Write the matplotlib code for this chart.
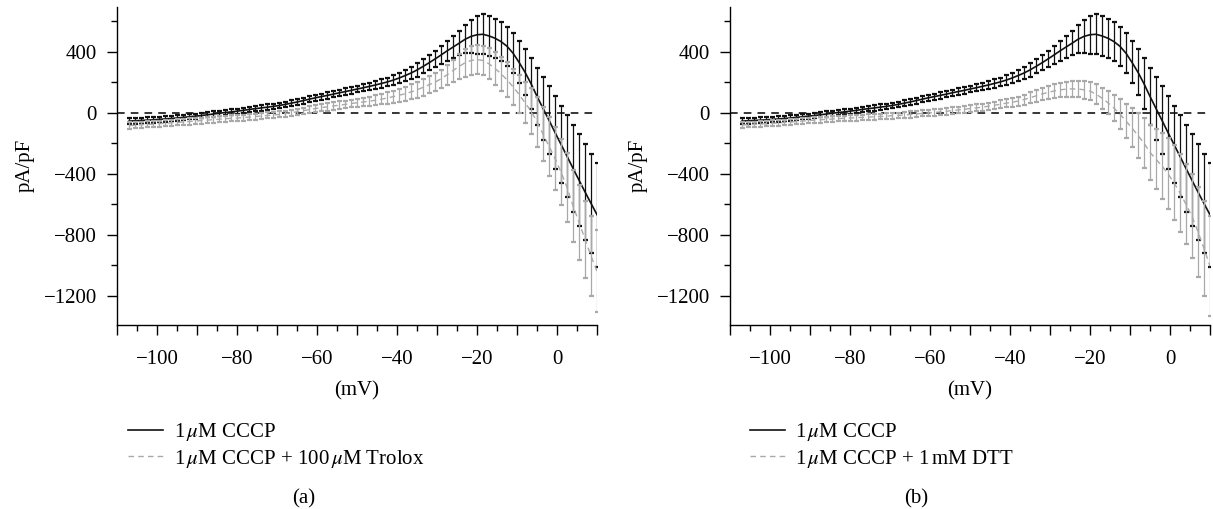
import matplotlib
matplotlib.use("Agg")
import matplotlib.pyplot as plt
import numpy as np
from matplotlib.ticker import MultipleLocator, FuncFormatter
from matplotlib.lines import Line2D

plt.rcParams['font.family'] = ['Liberation Serif', 'DejaVu Serif']
plt.rcParams['mathtext.fontset'] = 'stix'

# membrane voltage (mV)
mv = [-107, -105.5, -104, -102.5, -101, -99.5, -98, -96.5, -95, -93.5,
      -92, -90.5, -89, -87.5, -86, -84.5, -83, -81.5, -80, -78.5,
      -77, -75.5, -74, -72.5, -71, -69.5, -68, -66.5, -65, -63.5,
      -62, -60.5, -59, -57.5, -56, -54.5, -53, -51.5, -50, -48.5,
      -47, -45.5, -44, -42.5, -41, -39.5, -38, -36.5, -35, -33.5,
      -32, -30.5, -29, -27.5, -26, -24.5, -23, -21.5, -20, -18.5,
      -17, -15.5, -14, -12.5, -11, -9.5, -8, -6.5, -5, -3.5,
      -2, -0.5, 1, 2.5, 4, 5.5, 7, 8.5, 10]

# 1 uM CCCP (control, both panels)
cccp = [-55, -53, -51, -49, -47, -44, -41, -38, -35, -31,
        -27, -23, -19, -14, -9, -4, 1, 5, 10, 15,
        21, 26, 31, 36, 41, 47, 54, 62, 70, 79,
        88, 97, 105, 113, 121, 130, 138, 146, 155, 163,
        172, 181, 191, 201, 213, 227, 243, 260, 280, 303,
        327, 352, 378, 405, 430, 455, 481, 500, 511, 514,
        503, 488, 466, 435, 390, 330, 265, 190, 107, 28,
        -50, -130, -208, -286, -365, -443, -520, -595, -669]
cccp_sem = [18, 18, 18, 18, 18, 18, 18, 17, 17, 17,
            17, 17, 17, 17, 17, 17, 17, 17, 17, 17,
            17, 18, 18, 18, 18, 18, 19, 19, 19, 20,
            20, 20, 20, 21, 21, 21, 22, 22, 22, 23,
            24, 25, 27, 29, 31, 34, 37, 40, 43, 46,
            49, 53, 58, 64, 70, 80, 92, 108, 124, 131,
            132, 129, 127, 127, 130, 138, 150, 166, 185, 205,
            222, 238, 253, 268, 284, 300, 314, 327, 340]

# 1 uM CCCP + 100 uM Trolox
trolox = [-85, -82, -79, -77, -75, -72, -69, -67, -64, -61,
          -58, -55, -52, -49, -46, -43, -40, -37, -35, -32,
          -29, -26, -22, -18, -15, -11, -6, 0, 6, 13,
          20, 27, 33, 38, 44, 49, 54, 60, 65, 70,
          75, 81, 88, 96, 105, 114, 124, 136, 150, 166,
          183, 200, 222, 248, 276, 303, 327, 342, 348, 342,
          320, 290, 255, 215, 170, 120, 65, 10, -60, -140,
          -220, -300, -390, -490, -610, -720, -830, -940, -1040]
trolox_sem = [21, 21, 21, 20, 20, 20, 20, 20, 20, 20,
              20, 20, 20, 20, 20, 20, 20, 20, 20, 20,
              20, 20, 20, 20, 20, 20, 20, 20, 20, 20,
              22, 23, 23, 24, 24, 25, 25, 26, 27, 28,
              30, 32, 34, 37, 40, 43, 46, 49, 52, 54,
              55, 57, 59, 64, 72, 82, 90, 95, 96, 98,
              102, 106, 110, 114, 118, 125, 135, 150, 165, 180,
              193, 205, 215, 225, 235, 245, 252, 260, 268]

# 1 uM CCCP + 1 mM DTT
dtt = [-80, -78, -76, -74, -72, -69, -67, -64, -61, -58,
       -55, -52, -49, -47, -44, -42, -39, -37, -35, -33,
       -31, -29, -27, -25, -23, -20, -18, -15, -12, -8,
       -5, -2, 1, 5, 9, 13, 18, 22, 27, 31,
       36, 42, 48, 55, 62, 68, 76, 86, 98, 110,
       122, 133, 142, 150, 154, 156, 155, 150, 141, 122,
       95, 65, 30, -10, -55, -100, -150, -200, -260, -305,
       -350, -400, -460, -525, -600, -680, -780, -890, -1005]
dtt_sem = [18, 18, 18, 18, 18, 18, 18, 18, 18, 18,
           18, 18, 18, 18, 18, 18, 18, 18, 19, 19,
           19, 19, 19, 19, 19, 19, 19, 20, 20, 20,
           20, 20, 20, 21, 21, 21, 22, 22, 22, 23,
           23, 24, 24, 25, 26, 28, 30, 33, 36, 39,
           41, 43, 45, 47, 50, 52, 55, 58, 60, 64,
           70, 76, 85, 97, 112, 128, 145, 162, 180, 198,
           215, 232, 245, 255, 262, 275, 295, 312, 330]

labels_a = [r'1$\,\mu$M CCCP', r'1$\,\mu$M CCCP + 100$\,\mu$M Trolox']
labels_b = [r'1$\,\mu$M CCCP', r'1$\,\mu$M CCCP + 1$\,$mM DTT']

black = '#111111'
grey = '#a9a9a9'
fs = 15

fig = plt.figure(figsize=(12.13, 5.09), dpi=100)
ax_a = fig.add_axes([0.0965, 0.3615, 0.3957, 0.6254])
ax_b = fig.add_axes([0.6018, 0.3615, 0.3957, 0.6254])


def minus(v):
    return '{:d}'.format(int(round(v))).replace('-', '\u2212')


def panel(ax, mean2, sem2):
    ax.axhline(0, color='black', lw=1.1, ls=(0, (5, 4)), zorder=1)
    ax.errorbar(mv, cccp, yerr=cccp_sem, color=black, lw=1.2, elinewidth=0.9,
                capsize=1.8, capthick=1.6, zorder=2)
    ax.errorbar(mv, mean2, yerr=sem2, color=grey, lw=1.0, ls=(0, (4, 3)),
                elinewidth=0.9, capsize=1.8, capthick=1.6, zorder=3)
    ax.set_xlim(-110, 10)
    ax.set_ylim(-1392, 695)
    ax.xaxis.set_major_locator(MultipleLocator(10))
    ax.xaxis.set_minor_locator(MultipleLocator(5))
    ax.xaxis.set_major_formatter(FuncFormatter(
        lambda v, p: '' if round(v) % 20 else minus(v)))
    ax.yaxis.set_major_locator(MultipleLocator(400))
    ax.yaxis.set_minor_locator(MultipleLocator(200))
    ax.yaxis.set_major_formatter(FuncFormatter(lambda v, p: minus(v)))
    for s in ['top', 'right']:
        ax.spines[s].set_visible(False)
    ax.spines['left'].set_linewidth(1.0)
    ax.spines['bottom'].set_linewidth(1.0)
    ax.tick_params(which='major', length=7, width=1.0, labelsize=fs)
    ax.tick_params(axis='y', which='major', pad=7.5)
    ax.tick_params(axis='x', which='major', pad=11)
    ax.tick_params(which='minor', length=4, width=1.0)
    ax.set_xlabel('(mV)', fontsize=fs, labelpad=9)
    ax.set_ylabel('pA/pF', fontsize=fs)
    ax.yaxis.set_label_coords(-0.172, 0.5)


panel(ax_a, trolox, trolox_sem)
panel(ax_b, dtt, dtt_sem)

handles = [Line2D([], [], color=black, lw=1.2),
           Line2D([], [], color=grey, lw=1.0, ls=(0, (4, 3)))]
for lab, x0 in [(labels_a, 0.1055), (labels_b, 0.618)]:
    fig.legend(handles, lab, loc='upper left', bbox_to_anchor=(x0, 0.172),
               frameon=False, fontsize=fs, handlelength=1.7, handletextpad=0.5,
               labelspacing=0.2, borderpad=0, borderaxespad=0)

fig.text(0.25, 0.02, '(a)', ha='center', va='center', fontsize=fs)
fig.text(0.755, 0.02, '(b)', ha='center', va='center', fontsize=fs)

fig.savefig('out.png', dpi=100)
